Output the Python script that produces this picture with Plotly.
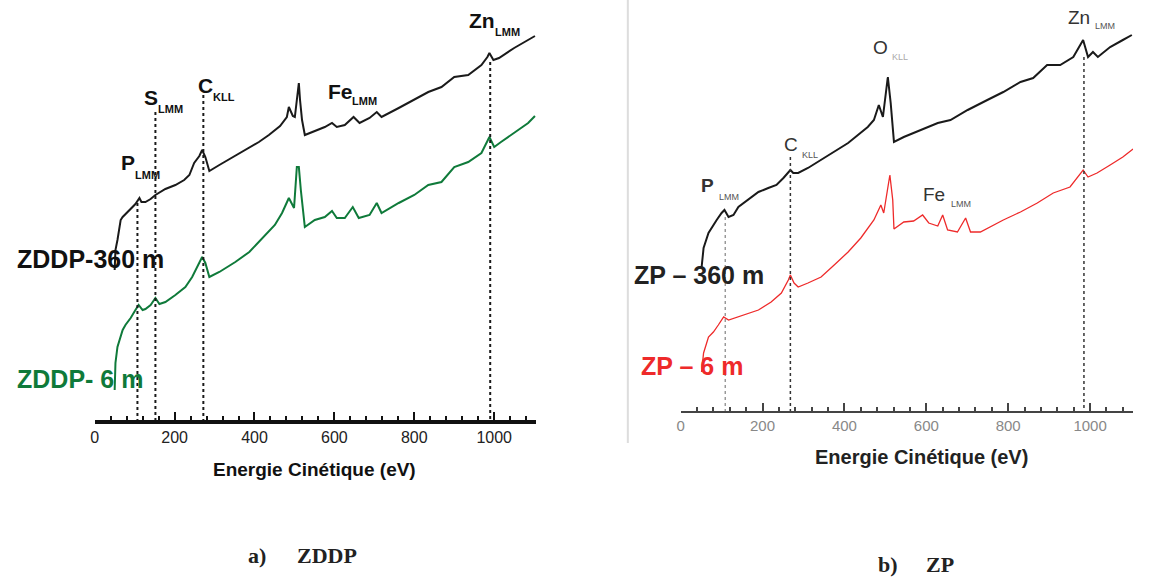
import plotly.graph_objects as go

W, H = 1155, 579

# ---------------- data (energy in eV, intensity in arbitrary units) ----------------
zddp360_ev = [50, 52, 57, 65, 70, 87, 102, 112, 117, 127, 140, 152, 177, 202, 224, 237, 249, 262,
              269, 277, 287, 312, 352, 387, 411, 436, 464, 481, 486, 496, 501, 506, 511, 514, 519,
              526, 544, 576, 594, 606, 626, 648, 663, 688, 706, 718, 761, 800, 835, 868, 900, 935,
              968, 983, 988, 998, 1012, 1050, 1085, 1102]
zddp360_int = [150, 170, 180, 200, 203, 210, 216, 222, 218, 218, 221, 225, 231, 235, 240, 245, 257, 264,
               270, 263, 249, 255, 264, 272, 278, 285, 294, 303, 313, 304, 303, 320, 337, 320, 300,
               285, 288, 293, 297, 293, 295, 303, 297, 302, 308, 303, 312, 320, 328, 333, 343, 345,
               355, 363, 367, 360, 362, 372, 380, 384]

zddp6_ev = [50, 52, 57, 70, 77, 90, 102, 110, 120, 127, 140, 152, 162, 177, 202, 227, 244, 262,
            269, 277, 287, 312, 352, 387, 411, 436, 451, 469, 486, 499, 506, 511, 516, 526, 551,
            576, 594, 606, 626, 646, 661, 688, 706, 718, 761, 800, 835, 868, 900, 935, 968, 988,
            1000, 1017, 1050, 1085, 1102]
zddp6_int = [30, 57, 73, 90, 95, 102, 110, 115, 110, 111, 115, 122, 116, 118, 125, 133, 143, 157,
             163, 157, 143, 148, 158, 168, 178, 188, 195, 207, 222, 212, 253, 253, 230, 193, 200,
             203, 209, 202, 202, 213, 202, 205, 217, 207, 217, 225, 235, 238, 253, 258, 267, 283,
             273, 278, 287, 297, 304]

zp360_ev = [51, 56, 68, 75, 88, 100, 107, 117, 129, 141, 165, 190, 214, 234, 251, 263, 268, 275,
            287, 311, 343, 375, 409, 433, 457, 472, 484, 494, 506, 513, 521, 545, 586, 628, 659,
            701, 749, 788, 830, 861, 895, 927, 959, 983, 995, 1007, 1019, 1049, 1080, 1102]
zp360_int = [143, 163, 178, 183, 191, 198, 201, 194, 196, 204, 211, 219, 223, 226, 233, 238, 241, 238,
             238, 243, 251, 259, 268, 276, 284, 291, 306, 294, 334, 308, 269, 274, 281, 288, 291,
             301, 311, 319, 329, 333, 346, 346, 354, 371, 354, 359, 354, 364, 371, 376]

zp6_ev = [51, 56, 68, 80, 92, 105, 117, 131, 156, 190, 221, 246, 263, 268, 277, 287, 311, 343,
          375, 409, 440, 472, 489, 496, 511, 518, 521, 545, 569, 591, 606, 628, 640, 652, 676,
          696, 708, 732, 788, 830, 871, 910, 951, 983, 995, 1017, 1049, 1080, 1105]
zp6_int = [39, 58, 74, 79, 86, 94, 91, 93, 96, 101, 109, 118, 131, 136, 128, 124, 128, 134,
           146, 159, 173, 191, 206, 198, 236, 211, 182, 189, 190, 196, 188, 185, 196, 181, 179,
           193, 179, 179, 191, 199, 208, 218, 224, 241, 234, 238, 246, 254, 262]

# peak markers (energy, top of the dotted line)
zddp_peak_ev = [107, 152, 272, 990]
zddp_peak_top = [217, 308, 325, 358]
zp_peak_ev = [109, 268, 985]
zp_peak_top = [194, 254, 354]

tick_vals = [0, 200, 400, 600, 800, 1000]
tick_text = ["0", "200", "400", "600", "800", "1000"]

# ---------------- figure ----------------
fig = go.Figure()

def px_x(px):
    return px / W

def px_y(py):
    return 1 - py / H

# left panel curves
fig.add_trace(go.Scatter(x=zddp360_ev, y=zddp360_int, mode="lines",
                         line=dict(color="#1a1a1a", width=2), xaxis="x", yaxis="y",
                         showlegend=False, hoverinfo="skip"))
fig.add_trace(go.Scatter(x=zddp6_ev, y=zddp6_int, mode="lines",
                         line=dict(color="#0f7a3a", width=2), xaxis="x", yaxis="y",
                         showlegend=False, hoverinfo="skip"))
for e, t in zip(zddp_peak_ev, zddp_peak_top):
    fig.add_trace(go.Scatter(x=[e, e], y=[t, 0], mode="lines",
                             line=dict(color="#1a1a1a", width=2, dash="dot"),
                             xaxis="x", yaxis="y", showlegend=False, hoverinfo="skip"))

# right panel curves
fig.add_trace(go.Scatter(x=zp360_ev, y=zp360_int, mode="lines",
                         line=dict(color="#1a1a1a", width=2), xaxis="x2", yaxis="y2",
                         showlegend=False, hoverinfo="skip"))
fig.add_trace(go.Scatter(x=zp6_ev, y=zp6_int, mode="lines",
                         line=dict(color="#ee2a2a", width=1.3), xaxis="x2", yaxis="y2",
                         showlegend=False, hoverinfo="skip"))
zp_line_colors = ["#999999", "#333333", "#333333"]
for e, t, c in zip(zp_peak_ev, zp_peak_top, zp_line_colors):
    fig.add_trace(go.Scatter(x=[e, e], y=[t, 0], mode="lines",
                             line=dict(color=c, width=1.5, dash="dot"),
                             xaxis="x2", yaxis="y2", showlegend=False, hoverinfo="skip"))

ann = []

def lab(x, y, text, size, bold, color, xref, yref, xanchor="center", family="Liberation Sans"):
    t = f"<b>{text}</b>" if bold else text
    ann.append(dict(x=x, y=y, xref=xref, yref=yref, text=t, showarrow=False,
                    xanchor=xanchor, yanchor="middle",
                    font=dict(family=family, size=size, color=color)))

# left peak labels
for main, sub, mx, my, sx, sy in [
    ("P", "LMM", 84, 258, 131, 245),
    ("S", "LMM", 141, 323, 191, 311),
    ("C", "KLL", 277, 335, 323, 323),
    ("Fe", "LMM", 615, 329, 676, 319),
    ("Zn", "LMM", 969, 400, 1034, 388),
]:
    lab(mx, my, main, 21, True, "#111111", "x", "y")
    lab(sx, sy, sub, 11, True, "#111111", "x", "y")

# right peak labels
for main, sub, mx, my, sx, sy, mb, subc in [
    ("P", "LMM", 66, 226, 117, 214, True, "#555555"),
    ("C", "KLL", 269, 267, 315, 256, False, "#555555"),
    ("O", "KLL", 489, 364, 535, 354, False, "#aaaaaa"),
    ("Fe", "LMM", 620, 217, 685, 207, False, "#555555"),
    ("Zn", "LMM", 972, 394, 1036, 385, False, "#555555"),
]:
    lab(mx, my, main, 19, mb, "#333333", "x2", "y2")
    lab(sx, sy, sub, 9, False, subc, "x2", "y2")

# series names
lab(px_x(11), px_y(259), "ZDDP-360 m", 25, True, "#111111", "paper", "paper", xanchor="left")
lab(px_x(11), px_y(379), "ZDDP- 6 m", 25, True, "#0f7a3a", "paper", "paper", xanchor="left")
lab(px_x(630), px_y(275), "ZP – 360 m", 25, True, "#222222", "paper", "paper", xanchor="left")
lab(px_x(637), px_y(366), "ZP – 6 m", 25, True, "#ee2a2a", "paper", "paper", xanchor="left")

# axis titles
lab(px_x(312), px_y(469), "Energie Cinétique (eV)", 19, True, "#111111", "paper", "paper")
lab(px_x(921), px_y(457), "Energie Cinétique (eV)", 20, True, "#222222", "paper", "paper")

# captions
lab(px_x(243), px_y(555), "a)", 22, True, "#222222", "paper", "paper", xanchor="left",
    family="Liberation Serif")
lab(px_x(292), px_y(555), "ZDDP", 22, True, "#222222", "paper", "paper", xanchor="left",
    family="Liberation Serif")
lab(px_x(875), px_y(564), "b)", 22, True, "#222222", "paper", "paper", xanchor="left",
    family="Liberation Serif")
lab(px_x(923), px_y(564), "ZP", 22, True, "#222222", "paper", "paper", xanchor="left",
    family="Liberation Serif")

xcommon = dict(range=[0, 1105], showgrid=False, zeroline=False, showline=True,
               ticks="inside", tickvals=tick_vals, ticktext=tick_text, fixedrange=True)

fig.update_layout(
    width=W, height=H, autosize=False,
    margin=dict(l=0, r=0, t=0, b=0),
    paper_bgcolor="white", plot_bgcolor="rgba(0,0,0,0)",
    xaxis=dict(domain=[91 / W, 534 / W], anchor="y", linecolor="#111111", linewidth=3.5,
               ticklen=8, tickwidth=2, tickcolor="#111111",
               minor=dict(dtick=40, tick0=0, ticks="inside", ticklen=4, tickwidth=2,
                          tickcolor="#111111"),
               tickfont=dict(family="Liberation Sans", size=16, color="#222222"),
               **xcommon),
    yaxis=dict(domain=[1 - 420 / H, 1], range=[0, 420], visible=False, fixedrange=True),
    xaxis2=dict(domain=[679 / W, 1133 / W], anchor="y2", linecolor="#444444", linewidth=2,
                ticklen=8, tickwidth=1.5, tickcolor="#444444",
                minor=dict(dtick=40, tick0=0, ticks="inside", ticklen=4, tickwidth=1.5,
                           tickcolor="#444444"),
                tickfont=dict(family="Liberation Sans", size=15, color="#888888"),
                **xcommon),
    yaxis2=dict(domain=[1 - 411 / H, 1], range=[0, 411], visible=False, fixedrange=True),
    annotations=ann,
    shapes=[dict(type="line", xref="paper", yref="paper", x0=626 / W, x1=626 / W,
                 y0=1, y1=1 - 443 / H, line=dict(color="#dddddd", width=2))],
)

fig.write_html("out.html", config={"displayModeBar": False},
               post_script="document.body.style.margin='0';document.body.style.overflow='hidden';")
